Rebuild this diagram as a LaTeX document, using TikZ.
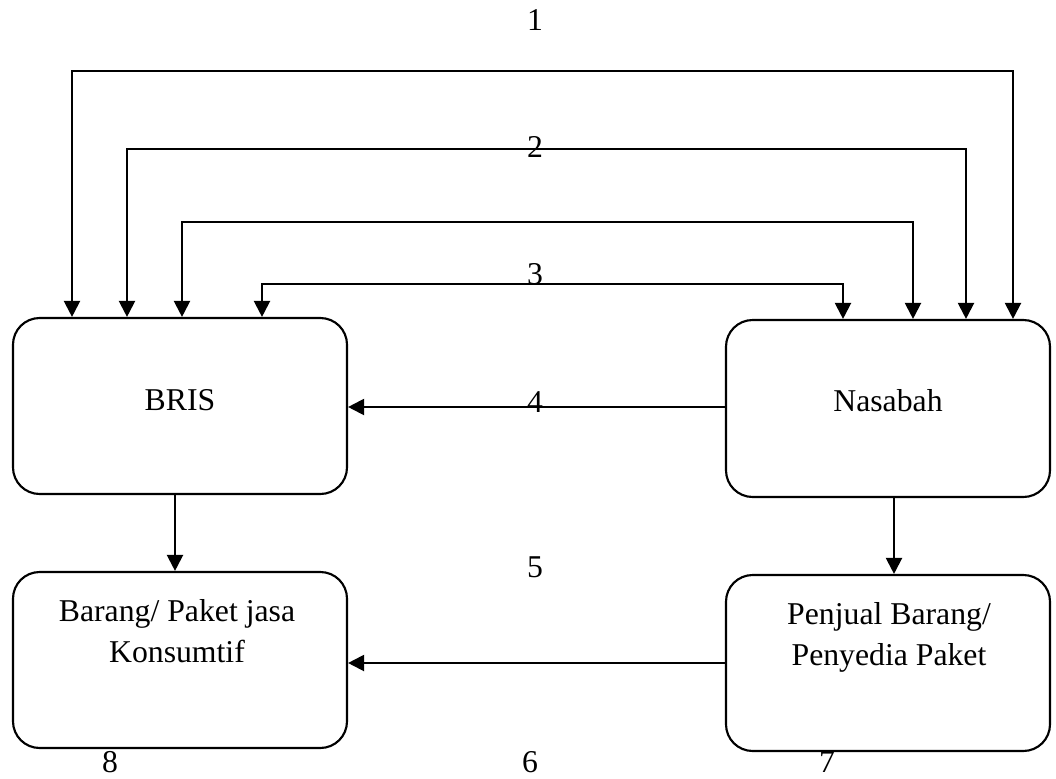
\documentclass[tikz,border=0pt]{standalone}
\usepackage{fontspec}
\setmainfont{Liberation Serif}
\usetikzlibrary{arrows.meta}
\tikzset{
  rbox/.style={draw, line width=1.6pt, rounded corners=20pt, inner sep=0pt},
  lbl/.style={font=\fontsize{23.8pt}{30.5pt}\selectfont, inner sep=0pt, anchor=base, align=center},
  conn/.style={line width=1.6pt, -{Triangle[width=12pt,length=12pt]}},
  conn2/.style={line width=1.6pt, {Triangle[width=12pt,length=12pt]}-{Triangle[width=12pt,length=12pt]}},
}
\begin{document}
\begin{tikzpicture}[x=0.75pt,y=-0.75pt]
\useasboundingbox (0,0) rectangle (1056,778);
% boxes
\node[rbox, minimum width=250.5pt, minimum height=132pt] (bris) at (180,406) {};
\node[rbox, minimum width=243pt, minimum height=132.75pt] (nas) at (888,408.5) {};
\node[rbox, minimum width=250.5pt, minimum height=132pt] (brg) at (180,660) {};
\node[rbox, minimum width=243pt, minimum height=132pt] (pjl) at (888,663) {};
% box texts
\node[lbl] (brisT) at (180,410) {BRIS};
\node[lbl] (nasT) at (888,411) {Nasabah};
\node[lbl] (brgT) at (177,662) {Barang/ Paket jasa\\Konsumtif};
\node[lbl] (pjlT) at (889,665) {Penjual Barang/\\Penyedia Paket};
% top connectors
\draw[conn2] (72,0 |- bris.north) -- (72,71) -| (1013,0 |- nas.north);
\draw[conn2] (127,0 |- bris.north) -- (127,149) -| (966,0 |- nas.north);
\draw[conn2] (182,0 |- bris.north) -- (182,222) -| (913,0 |- nas.north);
\draw[conn2] (262,0 |- bris.north) -- (262,284) -| (843,0 |- nas.north);
% other connectors
\draw[conn] (nas.west |- 0,407) -- (bris.east |- 0,407);
\draw[conn] (175,0 |- bris.south) -- (175,0 |- brg.north);
\draw[conn] (894,0 |- nas.south) -- (894,0 |- pjl.north);
\draw[conn] (pjl.west |- 0,663) -- (brg.east |- 0,663);
% numbers
\node[lbl] (n1) at (535,31) {1};
\node[lbl] (n2) at (535,157) {2};
\node[lbl] (n3) at (535,284) {3};
\node[lbl] (n4) at (535,412) {4};
\node[lbl] (n5) at (535,577) {5};
\node[lbl] (n6) at (530,772) {6};
\node[lbl] (n7) at (827,772) {7};
\node[lbl] (n8) at (110,772) {8};
\end{tikzpicture}
\end{document}
